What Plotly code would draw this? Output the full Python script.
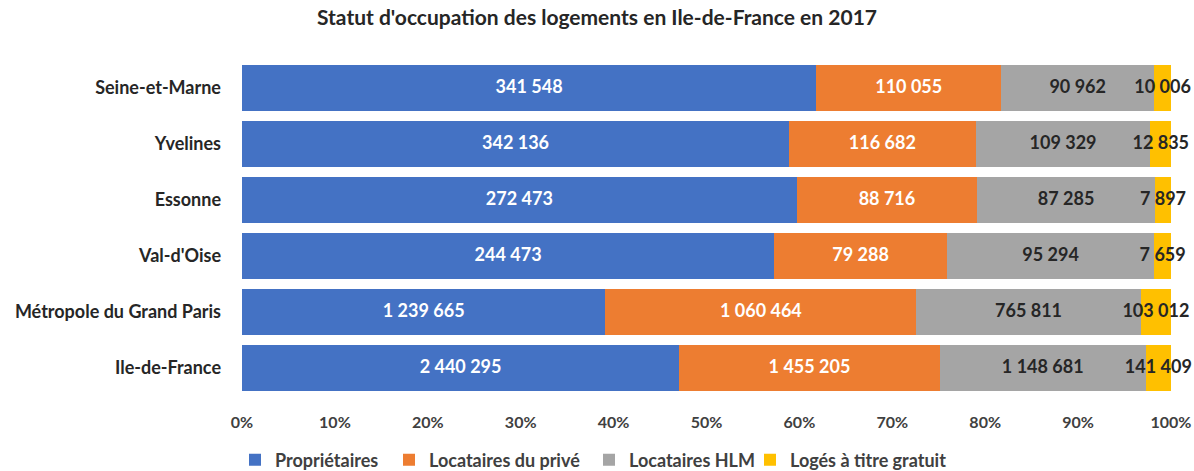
import plotly.graph_objects as go

# Logements par statut d'occupation, 2017
territoires = ["Seine-et-Marne", "Yvelines", "Essonne", "Val-d'Oise",
               "Métropole du Grand Paris", "Ile-de-France"]
proprietaires = [341548, 342136, 272473, 244473, 1239665, 2440295]
locataires_prive = [110055, 116682, 88716, 79288, 1060464, 1455205]
locataires_hlm = [90962, 109329, 87285, 95294, 765811, 1148681]
loges_gratuit = [10006, 12835, 7897, 7659, 103012, 141409]

series_noms = ["Propriétaires", "Locataires du privé", "Locataires HLM", "Logés à titre gratuit"]
series_valeurs = [proprietaires, locataires_prive, locataires_hlm, loges_gratuit]
couleurs = ["#4472C4", "#ED7D31", "#A5A5A5", "#FFC000"]
couleurs_texte = ["white", "white", "#262626", "#262626"]

tick_vals = list(range(0, 101, 10))
tick_labels = [f"{v}%" for v in tick_vals]

totaux = [sum(vals) for vals in zip(*series_valeurs)]


def fmt(v):
    return f"{v:,}".replace(",", " ")


FONT = "Lato"
W, H = 1194, 471
# left edge (px) of each legend entry's text
legend_text_x = [275, 429, 629, 790]

fig = go.Figure()
cumul = [0.0] * len(territoires)
for i, (nom, vals, coul, ctxt) in enumerate(zip(series_noms, series_valeurs, couleurs, couleurs_texte)):
    parts = [v / t * 100 for v, t in zip(vals, totaux)]
    centres = [c + p / 2 for c, p in zip(cumul, parts)]
    leg = "legend" if i == 0 else f"legend{i + 1}"
    fig.add_trace(go.Bar(
        y=territoires,
        x=parts,
        orientation="h",
        name=nom,
        legend=leg,
        marker=dict(color=coul, line=dict(width=0)),
        customdata=[fmt(v) for v in vals],
        hovertemplate="%{y}<br>" + nom + " : %{customdata}<extra></extra>",
    ))
    # value labels centred on each segment
    fig.add_trace(go.Scatter(
        y=territoires,
        x=centres,
        mode="text",
        text=[fmt(v) for v in vals],
        textposition="middle center",
        textfont=dict(family=FONT, size=18, color=ctxt, weight="bold"),
        cliponaxis=False,
        showlegend=False,
        hoverinfo="skip",
    ))
    cumul = [c + p for c, p in zip(cumul, parts)]

legend_common = dict(
    orientation="h",
    xref="container", xanchor="left",
    yref="container", y=(H - 460) / H, yanchor="middle",
    font=dict(family=FONT, size=18, color="#404040", weight="bold"),
    itemclick=False,
    bgcolor="rgba(0,0,0,0)",
)
legends = {}
for i, tx in enumerate(legend_text_x):
    key = "legend" if i == 0 else f"legend{i + 1}"
    legends[key] = dict(legend_common, x=(tx - 40) / W)

fig.update_layout(
    barmode="stack",
    bargap=0.18,
    width=W,
    height=H,
    margin=dict(l=242, r=23, t=60, b=75, autoexpand=False),
    paper_bgcolor="white",
    plot_bgcolor="white",
    font=dict(family=FONT, color="#262626"),
    title=dict(
        text="Statut d'occupation des logements en Ile-de-France en 2017",
        x=0.5, xref="container", xanchor="center",
        y=1 - 18 / H, yref="container", yanchor="middle",
        font=dict(family=FONT, size=21, color="#262626", weight="bold"),
    ),
    xaxis=dict(
        range=[0, 100],
        tickvals=tick_vals,
        ticktext=tick_labels,
        showgrid=False,
        zeroline=False,
        showline=False,
        ticks="",
        tickangle=0,
        automargin=False,
        ticklabelstandoff=15,
        tickfont=dict(family=FONT, size=16, color="#404040", weight="bold"),
        fixedrange=True,
    ),
    yaxis=dict(
        autorange="reversed",
        showgrid=False,
        zeroline=False,
        showline=False,
        ticks="",
        automargin=False,
        ticklabelstandoff=20,
        tickfont=dict(family=FONT, size=18, color="#262626", weight="bold"),
        fixedrange=True,
    ),
    **legends,
)

fig.write_html("out.html")
